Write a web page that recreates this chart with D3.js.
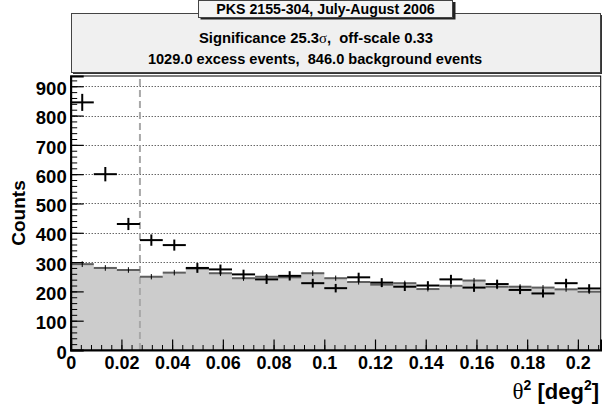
<!DOCTYPE html>
<html>
<head>
<meta charset="utf-8">
<script src="https://cdn.jsdelivr.net/npm/d3@7/dist/d3.min.js"></script>
<style>
  html, body { margin: 0; padding: 0; background: #fff; }
  svg { display: block; }
  text { font-family: "Liberation Sans", Arial, Helvetica, sans-serif; font-weight: bold; fill: #000; }
</style>
</head>
<body>
<svg id="chart" width="602" height="405"></svg>
<script>
// ---------------- data ----------------
const titleText = "PKS 2155-304, July-August 2006";
const statsLine1 = ["Significance 25.3", "σ", ",  off-scale 0.33"];
const statsLine2 = "1029.0 excess events,  846.0 background events";
const offScale = 0.33;
const thetaCut = 0.0273;

// theta^2 bin edges (23 bins)
const binEdges = [0.0000, 0.0091, 0.0182, 0.0273, 0.0363, 0.0454, 0.0545, 0.0636,
                  0.0727, 0.0818, 0.0909, 0.1000, 0.1090, 0.1181, 0.1272, 0.1363,
                  0.1454, 0.1545, 0.1636, 0.1727, 0.1817, 0.1908, 0.1999, 0.2090];
// ON counts per bin
const onCounts = [845, 600, 430, 375, 358, 280, 275, 258, 241, 253, 228, 211,
                  248, 230, 216, 220, 241, 213, 225, 205, 193, 228, 210];
// scaled OFF (background) counts per bin
const offCounts = [293, 280, 273, 250, 264, 278, 262, 245, 250, 248, 262, 245,
                   232, 223, 228, 208, 219, 237, 216, 216, 213, 207, 199];

const xTickValues = [0, 0.02, 0.04, 0.06, 0.08, 0.1, 0.12, 0.14, 0.16, 0.18, 0.2];
const xTickLabels = ["0", "0.02", "0.04", "0.06", "0.08", "0.1", "0.12", "0.14", "0.16", "0.18", "0.2"];
const yTickValues = [0, 100, 200, 300, 400, 500, 600, 700, 800, 900];
const yTickLabels = ["0", "100", "200", "300", "400", "500", "600", "700", "800", "900"];

// ---------------- layout ----------------
const svg = d3.select("#chart");
const L = 70.7, R = 600.7, T = 76, B = 350;
const xMax = 0.209, yMax = 935;

const x = d3.scaleLinear().domain([0, xMax]).range([L, R]);
const y = d3.scaleLinear().domain([0, yMax]).range([B, T]);

// gridlines (horizontal dotted)
svg.append("g").selectAll("line").data(yTickValues.filter(v => v > 0)).join("line")
  .attr("x1", L).attr("x2", R)
  .attr("y1", d => Math.round(y(d)) + 0.5).attr("y2", d => Math.round(y(d)) + 0.5)
  .attr("stroke", "#222").attr("stroke-width", 1).attr("stroke-dasharray", "1,2");

// OFF histogram fill
const offPts = offCounts.map((v, i) => [binEdges[i], v]);
offPts.push([binEdges[binEdges.length - 1], offCounts[offCounts.length - 1]]);
const area = d3.area()
  .x(d => x(d[0])).y0(y(0)).y1(d => y(d[1]))
  .curve(d3.curveStepAfter);
svg.append("path").datum(offPts).attr("d", area).attr("fill", "#cccccc");

// cut line
svg.append("line")
  .attr("x1", x(thetaCut)).attr("x2", x(thetaCut))
  .attr("y1", B).attr("y2", T)
  .attr("stroke", "#a8a8a8").attr("stroke-width", 2).attr("stroke-dasharray", "7,4");

// OFF histogram outline (top segments)
svg.append("g").selectAll("line").data(offCounts).join("line")
  .attr("x1", (d, i) => x(binEdges[i])).attr("x2", (d, i) => x(binEdges[i + 1]))
  .attr("y1", d => y(d)).attr("y2", d => y(d))
  .attr("stroke", "#5e5e5e").attr("stroke-width", 2);

// OFF error bars
svg.append("g").selectAll("line").data(offCounts).join("line")
  .attr("x1", (d, i) => x((binEdges[i] + binEdges[i + 1]) / 2))
  .attr("x2", (d, i) => x((binEdges[i] + binEdges[i + 1]) / 2))
  .attr("y1", d => y(d + Math.sqrt(d * offScale)))
  .attr("y2", d => y(d - Math.sqrt(d * offScale)))
  .attr("stroke", "#000").attr("stroke-width", 1);

// ON crosses
const on = svg.append("g");
on.selectAll("line.h").data(onCounts).join("line").attr("class", "h")
  .attr("x1", (d, i) => x(binEdges[i])).attr("x2", (d, i) => x(binEdges[i + 1]))
  .attr("y1", d => y(d)).attr("y2", d => y(d))
  .attr("stroke", "#000").attr("stroke-width", 2);
on.selectAll("line.v").data(onCounts).join("line").attr("class", "v")
  .attr("x1", (d, i) => x((binEdges[i] + binEdges[i + 1]) / 2))
  .attr("x2", (d, i) => x((binEdges[i] + binEdges[i + 1]) / 2))
  .attr("y1", d => y(d + Math.sqrt(d)))
  .attr("y2", d => y(d - Math.sqrt(d)))
  .attr("stroke", "#000").attr("stroke-width", 2);

// frame
svg.append("rect").attr("x", L).attr("y", T).attr("width", R - L).attr("height", B - T)
  .attr("fill", "none").attr("stroke", "#000").attr("stroke-width", 1);

// x axis
const xMinor = d3.range(0, xMax, 0.004);
svg.append("g").attr("transform", `translate(0,${B})`)
  .call(d3.axisBottom(x).tickValues(xMinor).tickSize(-5).tickFormat(""))
  .call(g => g.select(".domain").remove())
  .call(g => g.selectAll("line").attr("stroke-width", 1));
const xAxis = svg.append("g").attr("transform", `translate(0,${B})`)
  .call(d3.axisBottom(x).tickValues(xTickValues).tickSize(-10.5).tickPadding(6)
    .tickFormat((d, i) => xTickLabels[i]));
xAxis.select(".domain").attr("stroke-width", 2);
xAxis.selectAll("line").attr("stroke-width", 1.2);
xAxis.selectAll("text").attr("font-size", 18).attr("font-family", null).attr("font-weight", null);

// y axis
const yMinor = d3.range(0, yMax, 20);
svg.append("g").attr("transform", `translate(${L},0)`)
  .call(d3.axisLeft(y).tickValues(yMinor).tickSize(-6.5).tickFormat(""))
  .call(g => g.select(".domain").remove())
  .call(g => g.selectAll("line").attr("stroke-width", 1));
const yAxis = svg.append("g").attr("transform", `translate(${L},0)`)
  .call(d3.axisLeft(y).tickValues(yTickValues).tickSize(-13).tickPadding(4)
    .tickFormat((d, i) => yTickLabels[i]));
yAxis.select(".domain").attr("stroke-width", 2);
yAxis.selectAll("line").attr("stroke-width", 1.2);
yAxis.selectAll("text").attr("font-size", 18.5).attr("dy", "0.44em")
  .attr("font-family", null).attr("font-weight", null);

// axis titles
svg.append("text").attr("transform", `translate(25,${(T + B) / 2}) rotate(-90)`)
  .attr("text-anchor", "middle").attr("font-size", 19).text("Counts");
const xt = svg.append("text").attr("x", 599).attr("y", 399).attr("text-anchor", "end").attr("font-size", 22);
xt.append("tspan").attr("font-family", "'Liberation Serif', 'Times New Roman', serif").attr("font-weight", "normal").attr("font-size", 23).text("θ");
xt.append("tspan").attr("font-size", 14).attr("dy", -9).text("2");
xt.append("tspan").attr("dy", 9).text(" [deg");
xt.append("tspan").attr("font-size", 14).attr("dy", -9).text("2");
xt.append("tspan").attr("dy", 9).text("]");

// header stats box
svg.append("rect").attr("x", 73).attr("y", 15).attr("width", 530).attr("height", 59).attr("fill", "#333");
svg.append("rect").attr("x", 71.5).attr("y", 13.5).attr("width", 529).attr("height", 59)
  .attr("fill", "#f0f0f0").attr("stroke", "#444").attr("stroke-width", 1);
const s1 = svg.append("text").attr("x", 316).attr("y", 42.5).attr("text-anchor", "middle").attr("font-size", 14.8)
  .style("white-space", "pre");
s1.append("tspan").text(statsLine1[0]);
s1.append("tspan").attr("font-family", "'Liberation Serif', 'Times New Roman', serif").attr("font-weight", "normal").text(statsLine1[1]);
s1.append("tspan").text(statsLine1[2]);
svg.append("text").attr("x", 315).attr("y", 64).attr("text-anchor", "middle").attr("font-size", 14.6)
  .style("white-space", "pre").text(statsLine2);

// title box
svg.append("rect").attr("x", 200.5).attr("y", 2).attr("width", 255).attr("height", 17.5).attr("fill", "#222");
svg.append("rect").attr("x", 198.5).attr("y", 0.5).attr("width", 254).attr("height", 17)
  .attr("fill", "#f4f4f4").attr("stroke", "#444").attr("stroke-width", 1);
svg.append("text").attr("x", 325.5).attr("y", 13.5).attr("text-anchor", "middle").attr("font-size", 14.2)
  .text(titleText);
</script>
</body>
</html>
